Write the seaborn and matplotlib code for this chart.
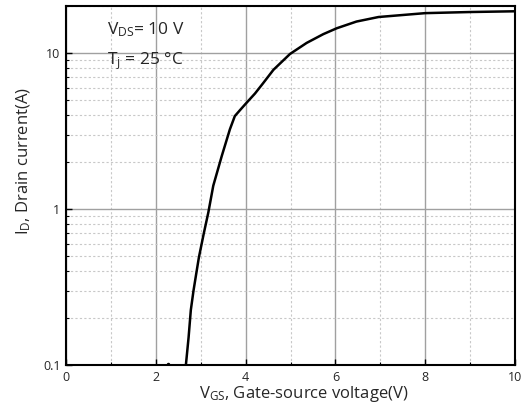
import numpy as np
import pandas as pd
import matplotlib
matplotlib.use("Agg")
import matplotlib.pyplot as plt
import matplotlib.ticker as mticker
import seaborn as sns

vgs = [2.67, 2.73, 2.78, 2.84, 2.91, 2.96, 3.07, 3.17, 3.28, 3.47, 3.65, 3.76,
       3.875, 4.0, 4.21, 4.39, 4.62, 4.99, 5.36, 5.73, 6.03, 6.47, 6.96, 8.0, 9.0, 10.0]
id_a = [0.1, 0.15, 0.225, 0.3, 0.40, 0.49, 0.70, 0.95, 1.41, 2.19, 3.24, 3.94,
        4.3, 4.72, 5.5, 6.4, 7.8, 9.86, 11.6, 13.2, 14.4, 15.9, 17.0, 18.0, 18.3, 18.5]
dot_v = [2.28]
dot_i = [0.102]

x_ticks = [0, 2, 4, 6, 8, 10]
y_ticks = [0.1, 1, 10]
y_tick_labels = ["0.1", "1", "10"]

sns.set_style("white")
plt.rcParams['font.family'] = ['Open Sans', 'DejaVu Sans']
plt.rcParams['mathtext.fontset'] = 'custom'
plt.rcParams['mathtext.rm'] = 'Open Sans'
plt.rcParams['mathtext.it'] = 'Open Sans'

fig = plt.figure(figsize=(5.26, 4.19), dpi=100)
ax = fig.add_axes([66/526, 1-365/419, (515-66)/526, (365-6)/419])

df = pd.DataFrame({"V": vgs, "I": id_a})
sns.lineplot(data=df, x="V", y="I", ax=ax, color="black", linewidth=1.8, sort=False)
for ln in ax.lines:
    ln.set_solid_joinstyle('round')
    ln.set_solid_capstyle('round')
ax.plot(dot_v, dot_i, 'o', color='black', markersize=1.5)

ax.set_yscale("log")
ax.set_xlim(0, 10)
ax.set_ylim(0.1, 20)

ax.set_xticks(x_ticks)
ax.set_xticklabels([str(t) for t in x_ticks])
ax.xaxis.set_minor_locator(mticker.MultipleLocator(1))
ax.set_yticks(y_ticks)
ax.set_yticklabels(y_tick_labels)
ax.yaxis.set_minor_locator(mticker.LogLocator(base=10, subs=np.arange(2, 10)))
ax.yaxis.set_minor_formatter(mticker.NullFormatter())

ax.grid(True, which='major', color='#a0a0a0', linewidth=1.0, linestyle='-')
ax.grid(True, which='minor', color='#c8c8c8', linewidth=0.8, linestyle=(0, (2, 2)))
ax.set_axisbelow(True)

ax.tick_params(axis='both', which='major', direction='in', length=4, width=1.0,
               labelsize=9, color='black', pad=4)
ax.tick_params(axis='both', which='minor', direction='in', length=2.5, width=0.8, color='black')
ax.tick_params(bottom=True, left=True, top=False, right=False, which='both')

for s in ax.spines.values():
    s.set_color('black')
    s.set_linewidth(1.5)

ax.set_xlabel(r"V$_{\mathrm{GS}}$, Gate-source voltage(V)", fontsize=12)
ax.xaxis.set_label_coords(0.53, -0.052)
ax.xaxis.label.set_verticalalignment('top')
ax.set_ylabel(r"I$_{\mathrm{D}}$, Drain current(A)", fontsize=12)
ax.yaxis.set_label_coords(-0.094, 0.567)
ax.yaxis.label.set_verticalalignment('center')

ax.text(0.092, 0.933, r"V$_{\mathrm{DS}}$= 10 V", transform=ax.transAxes, fontsize=12.5,
        va='center', ha='left')
ax.text(0.092, 0.847, r"T$_{\mathrm{j}}$ = 25 °C", transform=ax.transAxes, fontsize=12.5,
        va='center', ha='left')

fig.savefig("out.png", dpi=100)
